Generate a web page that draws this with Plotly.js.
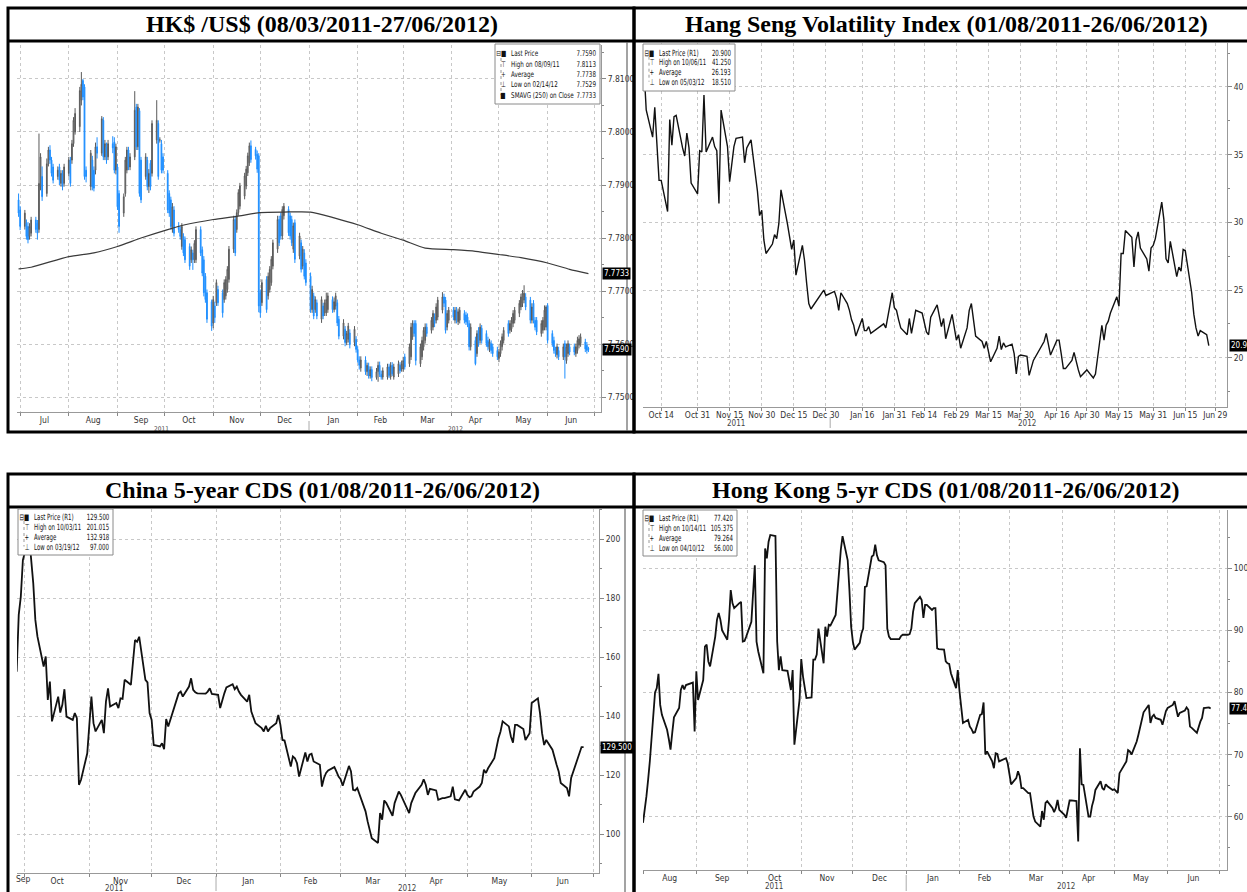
<!DOCTYPE html>
<html><head><meta charset="utf-8">
<script src="https://cdn.plot.ly/plotly-3.0.1.min.js"></script>
<style>html,body{margin:0;padding:0;background:#fff;}#chart{width:1247px;height:892px;}</style>
</head><body><div id="chart"></div>
<script>
// ---------------- DATA ----------------
// HK$/US$ daily candles [open, high, low, close], 2011-06-30 .. 2012-06-27 (weekdays)
const hkdStart = '2011-06-30';
const hkdOHLC = [
// Jun 30 + Jul 2011
[7.7872,7.7884,7.7840,7.7847],[7.7853,7.7860,7.7815,7.7822],[7.7822,7.7853,7.7816,7.7847],[7.7828,7.7835,7.7797,7.7803],
[7.7822,7.7830,7.7790,7.7797],[7.7803,7.7828,7.7797,7.7822],[7.7809,7.7840,7.7803,7.7834],[7.7834,7.7840,7.7810,7.7816],
[7.7828,7.7834,7.7797,7.7809],[7.7816,7.7997,7.7810,7.7903],[7.7897,7.7960,7.7890,7.7953],[7.7916,7.7935,7.7870,7.7878],
[7.7884,7.7950,7.7878,7.7940],[7.7940,7.7972,7.7935,7.7966],[7.7966,7.7975,7.7940,7.7947],[7.7947,7.7953,7.7916,7.7922],
[7.7934,7.7940,7.7903,7.7909],[7.7916,7.7935,7.7910,7.7928],[7.7934,7.7940,7.7900,7.7909],[7.7903,7.7928,7.7897,7.7922],
[7.7922,7.7928,7.7890,7.7897],[7.7903,7.7940,7.7897,7.7934],
// Aug 2011
[7.7922,7.7953,7.7916,7.7947],[7.7947,7.7953,7.7897,7.7903],[7.7947,7.7985,7.7940,7.7978],[7.7978,7.8028,7.7972,7.8022],
[7.8000,7.8045,7.7995,7.8035],[7.8010,7.8085,7.8000,7.8078],[7.8060,7.8113,7.8050,7.8090],[7.8097,7.8100,7.8060,7.8066],
[7.8085,7.8090,7.7910,7.7916],[7.7928,7.7935,7.7905,7.7916],[7.7897,7.7966,7.7890,7.7960],[7.7947,7.7955,7.7890,7.7897],
[7.7928,7.7935,7.7888,7.7894],[7.7928,7.7980,7.7920,7.7972],[7.7972,7.7990,7.7950,7.7960],[7.7960,7.8030,7.7955,7.8025],
[7.8022,7.8028,7.7947,7.7953],[7.7953,7.7985,7.7947,7.7978],[7.7972,7.7980,7.7940,7.7947],[7.7953,7.7985,7.7947,7.7978],
[7.7978,7.7992,7.7960,7.7970],[7.7981,7.7990,7.7922,7.7928],[7.7928,7.7978,7.7920,7.7972],
// Sep 2011
[7.7934,7.7940,7.7853,7.7859],[7.7884,7.7890,7.7810,7.7822],[7.7847,7.7884,7.7840,7.7878],[7.7884,7.7953,7.7878,7.7947],
[7.7928,7.7972,7.7922,7.7966],[7.7966,7.7972,7.7928,7.7934],[7.7934,7.7960,7.7928,7.7953],[7.7953,7.8077,7.7947,7.8041],
[7.8047,7.8053,7.7966,7.7972],[7.7972,7.8053,7.7966,7.8047],[7.8040,7.8045,7.7878,7.7884],[7.7947,7.7953,7.7866,7.7872],
[7.7916,7.7960,7.7910,7.7953],[7.7947,7.7953,7.7890,7.7897],[7.7897,7.7930,7.7885,7.7922],[7.7941,7.7947,7.7890,7.7897],
[7.7922,7.8022,7.7916,7.8016],[7.7985,7.8060,7.7978,7.8022],[7.8016,7.8022,7.7910,7.7916],[7.7985,7.7990,7.7980,7.7985],
[7.7978,7.7985,7.7922,7.7928],[7.7953,7.7960,7.7922,7.7928],
// Oct 2011
[7.7922,7.7928,7.7847,7.7853],[7.7884,7.7890,7.7840,7.7847],[7.7872,7.7878,7.7816,7.7822],[7.7816,7.7866,7.7810,7.7859],
[7.7853,7.7860,7.7803,7.7809],[7.7822,7.7830,7.7810,7.7816],[7.7816,7.7822,7.7797,7.7803],[7.7784,7.7828,7.7778,7.7822],
[7.7803,7.7809,7.7766,7.7772],[7.7797,7.7803,7.7753,7.7759],[7.7784,7.7790,7.7740,7.7747],[7.7759,7.7784,7.7753,7.7778],
[7.7772,7.7778,7.7740,7.7759],[7.7759,7.7796,7.7753,7.7790],[7.7759,7.7822,7.7753,7.7816],[7.7816,7.7822,7.7766,7.7772],
[7.7778,7.7784,7.7728,7.7734],[7.7759,7.7766,7.7690,7.7697],[7.7728,7.7734,7.7678,7.7684],[7.7697,7.7703,7.7640,7.7647],
[7.7680,7.7684,7.7625,7.7634],
// Nov 2011
[7.7640,7.7691,7.7630,7.7684],[7.7672,7.7680,7.7640,7.7650],[7.7678,7.7722,7.7672,7.7716],[7.7703,7.7710,7.7672,7.7678],
[7.7697,7.7703,7.7650,7.7659],[7.7684,7.7722,7.7678,7.7716],[7.7691,7.7728,7.7684,7.7722],[7.7703,7.7747,7.7697,7.7741],
[7.7722,7.7785,7.7716,7.7779],[7.7779,7.7842,7.7772,7.7835],[7.7835,7.7842,7.7766,7.7772],[7.7816,7.7854,7.7810,7.7848],
[7.7848,7.7892,7.7842,7.7886],[7.7860,7.7904,7.7854,7.7898],[7.7879,7.7923,7.7873,7.7917],[7.7898,7.7936,7.7892,7.7930],
[7.7923,7.7961,7.7917,7.7955],[7.7942,7.7980,7.7936,7.7974],[7.7974,7.7984,7.7942,7.7948],[7.7967,7.7972,7.7948,7.7955],
[7.7958,7.7965,7.7923,7.7930],[7.7955,7.7960,7.7660,7.7672],
// Dec 2011
[7.7697,7.7703,7.7650,7.7659],[7.7678,7.7722,7.7672,7.7716],[7.7722,7.7728,7.7659,7.7665],[7.7691,7.7735,7.7684,7.7728],
[7.7703,7.7747,7.7697,7.7741],[7.7716,7.7766,7.7710,7.7760],[7.7747,7.7797,7.7741,7.7791],[7.7779,7.7842,7.7772,7.7835],
[7.7835,7.7842,7.7785,7.7791],[7.7842,7.7848,7.7797,7.7804],[7.7804,7.7860,7.7797,7.7854],[7.7842,7.7866,7.7835,7.7860],
[7.7854,7.7860,7.7804,7.7810],[7.7842,7.7848,7.7797,7.7804],[7.7835,7.7842,7.7785,7.7791],[7.7779,7.7829,7.7772,7.7823],
[7.7829,7.7835,7.7753,7.7760],[7.7766,7.7810,7.7760,7.7804],[7.7791,7.7797,7.7735,7.7741],[7.7747,7.7785,7.7741,7.7779],
[7.7772,7.7779,7.7722,7.7728],[7.7753,7.7760,7.7710,7.7716],
// Jan 2012
[7.7728,7.7735,7.7659,7.7665],[7.7665,7.7710,7.7659,7.7703],[7.7691,7.7697,7.7647,7.7653],[7.7665,7.7690,7.7659,7.7684],
[7.7678,7.7684,7.7647,7.7653],[7.7647,7.7690,7.7640,7.7684],[7.7672,7.7678,7.7647,7.7653],[7.7659,7.7684,7.7653,7.7678],
[7.7659,7.7697,7.7653,7.7684],[7.7665,7.7697,7.7659,7.7691],[7.7684,7.7690,7.7659,7.7665],[7.7665,7.7688,7.7660,7.7680],
[7.7672,7.7697,7.7665,7.7691],[7.7678,7.7684,7.7634,7.7640],[7.7647,7.7653,7.7609,7.7615],[7.7615,7.7647,7.7609,7.7640],
[7.7628,7.7634,7.7596,7.7603],[7.7603,7.7625,7.7598,7.7620],[7.7609,7.7640,7.7603,7.7634],[7.7621,7.7628,7.7592,7.7599],
[7.7603,7.7634,7.7596,7.7628],[7.7609,7.7615,7.7584,7.7590],
// Feb 2012
[7.7590,7.7596,7.7565,7.7570],[7.7570,7.7577,7.7552,7.7560],[7.7555,7.7577,7.7548,7.7570],[7.7570,7.7577,7.7542,7.7548],
[7.7548,7.7565,7.7540,7.7560],[7.7558,7.7565,7.7535,7.7540],[7.7540,7.7558,7.7535,7.7552],[7.7552,7.7558,7.7530,7.7537],
[7.7537,7.7555,7.7533,7.7548],[7.7548,7.7567,7.7529,7.7560],[7.7560,7.7567,7.7538,7.7543],[7.7543,7.7550,7.7533,7.7538],
[7.7538,7.7556,7.7533,7.7550],[7.7538,7.7563,7.7533,7.7557],[7.7557,7.7563,7.7536,7.7541],[7.7538,7.7566,7.7533,7.7560],
[7.7560,7.7566,7.7540,7.7544],[7.7538,7.7563,7.7533,7.7557],[7.7544,7.7569,7.7538,7.7563],[7.7560,7.7566,7.7545,7.7550],
[7.7553,7.7569,7.7548,7.7563],
// Mar 2012
[7.7553,7.7576,7.7548,7.7569],[7.7576,7.7582,7.7552,7.7557],[7.7563,7.7601,7.7557,7.7595],[7.7576,7.7640,7.7570,7.7632],
[7.7614,7.7645,7.7608,7.7639],[7.7639,7.7645,7.7614,7.7620],[7.7639,7.7645,7.7560,7.7569],[7.7563,7.7601,7.7557,7.7595],
[7.7576,7.7614,7.7570,7.7607],[7.7595,7.7632,7.7588,7.7626],[7.7607,7.7639,7.7601,7.7632],[7.7632,7.7639,7.7614,7.7620],
[7.7626,7.7651,7.7620,7.7645],[7.7632,7.7664,7.7626,7.7658],[7.7651,7.7658,7.7632,7.7639],[7.7645,7.7677,7.7639,7.7670],
[7.7651,7.7689,7.7645,7.7683],[7.7664,7.7698,7.7658,7.7689],[7.7689,7.7695,7.7670,7.7677],[7.7683,7.7689,7.7620,7.7626],
[7.7632,7.7664,7.7626,7.7658],[7.7645,7.7670,7.7639,7.7664],
// Apr 2012
[7.7664,7.7670,7.7645,7.7651],[7.7645,7.7670,7.7639,7.7664],[7.7664,7.7670,7.7639,7.7645],[7.7642,7.7667,7.7636,7.7661],
[7.7645,7.7670,7.7639,7.7664],[7.7658,7.7664,7.7639,7.7645],[7.7655,7.7661,7.7636,7.7642],[7.7651,7.7658,7.7632,7.7639],
[7.7639,7.7645,7.7588,7.7595],[7.7595,7.7639,7.7588,7.7632],[7.7607,7.7614,7.7560,7.7563],[7.7582,7.7626,7.7576,7.7620],
[7.7626,7.7632,7.7595,7.7601],[7.7607,7.7639,7.7601,7.7632],[7.7630,7.7636,7.7601,7.7607],[7.7620,7.7626,7.7595,7.7601],
[7.7607,7.7614,7.7588,7.7595],[7.7591,7.7610,7.7585,7.7604],[7.7601,7.7607,7.7582,7.7588],[7.7595,7.7601,7.7576,7.7582],
[7.7588,7.7595,7.7570,7.7576],
// May 2012
[7.7573,7.7591,7.7566,7.7585],[7.7582,7.7607,7.7576,7.7601],[7.7595,7.7620,7.7588,7.7614],[7.7607,7.7632,7.7601,7.7626],
[7.7639,7.7645,7.7614,7.7620],[7.7626,7.7645,7.7620,7.7639],[7.7629,7.7651,7.7623,7.7645],[7.7639,7.7664,7.7632,7.7658],
[7.7645,7.7670,7.7639,7.7664],[7.7658,7.7683,7.7651,7.7677],[7.7670,7.7695,7.7664,7.7689],[7.7677,7.7702,7.7670,7.7696],
[7.7683,7.7711,7.7677,7.7696],[7.7689,7.7696,7.7664,7.7670],[7.7683,7.7689,7.7639,7.7645],[7.7645,7.7677,7.7639,7.7670],
[7.7677,7.7683,7.7639,7.7645],[7.7645,7.7651,7.7626,7.7632],[7.7645,7.7651,7.7617,7.7623],[7.7620,7.7645,7.7614,7.7639],
[7.7626,7.7651,7.7620,7.7645],[7.7632,7.7673,7.7626,7.7664],[7.7632,7.7673,7.7626,7.7670],
// Jun 2012
[7.7673,7.7677,7.7601,7.7607],[7.7620,7.7626,7.7595,7.7601],[7.7607,7.7614,7.7582,7.7588],[7.7588,7.7595,7.7576,7.7582],
[7.7580,7.7601,7.7573,7.7595],[7.7588,7.7595,7.7570,7.7576],[7.7576,7.7601,7.7570,7.7595],[7.7601,7.7607,7.7535,7.7576],
[7.7569,7.7601,7.7563,7.7595],[7.7582,7.7607,7.7576,7.7601],[7.7595,7.7601,7.7579,7.7585],[7.7595,7.7601,7.7579,7.7585],
[7.7582,7.7601,7.7576,7.7595],[7.7588,7.7614,7.7582,7.7607],[7.7598,7.7617,7.7592,7.7610],[7.7601,7.7620,7.7595,7.7614],
[7.7604,7.7610,7.7585,7.7591],[7.7598,7.7604,7.7582,7.7588],[7.7592,7.7595,7.7585,7.7590]
];
// 250-day simple moving average on close
const smaDates = ['2011-06-30','2011-07-08','2011-08-01','2011-08-17','2011-09-01','2011-09-16','2011-10-03','2011-10-14',
 '2011-11-01','2011-11-16','2011-12-01','2011-12-16','2012-01-02','2012-01-17','2012-02-01','2012-02-16','2012-03-01',
 '2012-03-15','2012-04-02','2012-04-16','2012-05-01','2012-05-15','2012-06-01','2012-06-15','2012-06-27'];
const smaValues = [7.7742,7.7745,7.7765,7.7772,7.7784,7.7800,7.7816,7.7825,7.7835,7.7841,7.7848,7.7849,7.7849,
 7.7838,7.7825,7.7809,7.7796,7.7781,7.7778,7.7775,7.7769,7.7763,7.7753,7.7741,7.7733];

// Hang Seng Volatility Index, HK trading days from 2011-10-06
const vhsiStart = '2011-10-06';
const hkHolidays = ['2011-12-26','2011-12-27','2012-01-02','2012-01-23','2012-01-24','2012-01-25','2012-04-04','2012-04-06','2012-04-09','2012-05-01'];
const vhsiValues = [
 41.25,38.3,36.3,38.5,35.8,33.1,33.1,
 30.8,37.6,35.7,37.8,37.9,35.5,34.9,36.6,35.5,32.9,32.1,
 35.3,35.2,39.4,35.2,36.3,35.6,35.3,31.4,38.3,35.6,33,
 34.4,35.6,36.2,36.3,34.4,35.5,35.8,36.1,32.3,30.5,30.9,
 28.7,27.7,28.4,29.1,28.8,29.9,32.4,29.9,28.8,28,28.7,
 26.1,28.3,27.2,25.5,24,23.6,24.8,25,24.6,
 24.9,24.4,23.5,24.8,24,23.5,22.8,22.4,21.6,22.9,
 22,22,22.3,21.8,22.5,22.2,24.8,23.7,
 23.5,22.8,22.2,21.7,22.9,21.8,22.7,23.5,23.3,22.7,
 21.9,21.7,23,23.9,23.2,22.3,22.9,21.4,23.2,22.2,21.3,
 21.7,20.7,22.2,23.5,24,22.9,21.6,21.2,20.7,21.2,20.3,
 19.7,20.7,21.6,20.6,21.1,20.8,21,20.3,18.8,20.1,20.2,
 20.1,18.7,19.8,21.2,21.8,21.1,20.2,21.3,
 21.3,20.3,19.2,19.2,19.8,20.4,19.7,19.1,18.6,19.1,
 18.7,18.51,18.8,22.4,21.3,22.4,22.7,23.3,24.5,23.8,
 27.7,27.7,29.4,28.9,26.7,28.7,29.3,28.1,27.3,26.4,28.1,28.3,
 28.8,31.5,30.2,27.3,27,28.6,26,26.7,26.4,28,27.9,
 24.8,23.2,22.2,21.6,22,21.7,20.9];
const vhsiTickDates = ['2011-10-14','2011-10-31','2011-11-15','2011-11-30','2011-12-15','2011-12-30','2012-01-16','2012-01-31',
 '2012-02-14','2012-02-29','2012-03-15','2012-03-30','2012-04-16','2012-04-30','2012-05-15','2012-05-31','2012-06-15','2012-06-29'];
const vhsiTickText = ['Oct 14','Oct 31','Nov 15','Nov 30','Dec 15','Dec 30','Jan 16','Jan 31','Feb 14','Feb 29','Mar 15',
 'Mar 30','Apr 16','Apr 30','May 15','May 31','Jun 15','Jun 29'];

// China 5-year CDS, weekdays from 2011-09-27
const chinaStart = '2011-09-27';
const chinaValues = [
 155,174.3,180.5,192.9,
 201.015,192.9,185,172.6,167,156.8,160.2,145.5,151.7,138.2,146.6,141.2,143.8,149.1,139.8,138.7,141,139.3,116.7,118.4,127.4,
 137,146.6,137.6,134.8,138.7,134.2,144.9,149.4,143.2,144.4,142.7,146,145.8,152.3,150.6,159,165.8,165.2,166.9,152.3,151.4,141,
 138.7,130.2,129.7,130.8,128.8,139,136.5,143.2,145.5,147.7,148.3,146.6,150,152.8,148.9,148.1,147.7,147.7,147.6,148.3,149.4,147.5,
 147.2,142.7,145.5,147.7,149.7,150.8,149.1,150,148.3,147.2,144.9,147.2,141.5,139.3,137.6,135.9,134.8,136.7,134.8,135.9,137.6,140.4,
 137,131.9,131.7,122.9,126.3,125.7,124,119.5,127.7,124.6,126.9,127.2,124.6,123.5,116.1,119,120.7,121.6,122.7,121.2,119.5,
 118.6,116.4,123.1,121.2,115,114.8,115.6,109.9,107.7,104.3,100.9,98.6,97,107.1,104.9,111.4,110.5,106.2,110.5,112.8,114.4,113.3,
 108.8,107.1,110.5,112.2,113.9,116.7,118.6,116.7,113.3,115.3,114.8,111.6,112,112.2,112.2,112.8,116.1,111.8,111.6,111.4,115,
 113.3,112.5,112.8,114.4,116.1,117.3,121.8,120.7,122.3,125.7,129.7,132.5,134.8,138.2,136.5,133.1,131,137,137,135.6,131.9,133.1,134.2,
 144.4,146,141,134.2,130.2,131.9,128.6,125.7,123.5,121.2,117.3,115.6,112.8,119,121.2,123.5,129.5,129.5];

// Hong Kong 5-yr CDS, weekdays from 2011-08-01
const hkcdsStart = '2011-08-01';
const hkcdsValues = [
 59,61,63.3,66,69,80,80.7,83,78,76.4,74,72.5,70.8,73.5,76,77.5,80.4,81.2,80.5,81.2,81.5,81.6,73.7,
 83.4,78.8,82,87.4,87.7,85,84.2,89,91.7,92.8,91.7,90,88.5,91.7,96.5,94.4,93.6,94.4,94.6,88.2,88.3,89,
 91.4,96,100.5,88.2,86.6,83.1,103.2,101.6,104.3,105.375,105.2,88.2,83.6,85.8,83.6,83.5,81.8,80.4,83.6,71.6,78.8,
 85.4,82.6,80.4,79.1,79.2,85.3,85.3,86.1,90.3,84.7,90.6,89,90.9,90.8,92.5,96,100.5,103,105.2,101.3,96.5,90.6,
 88.2,86.9,88,89.5,90.3,97,97.1,101.9,102.1,103.8,102.1,101.3,101,100.5,90.3,89,88.6,88.6,88.6,88.6,89.1,89.3,
 89.3,89.4,90.3,93,94.4,95.4,94.9,92,94.1,94.1,93.3,93.6,93.6,87.1,87,86.9,85,84.7,84.6,83.1,80.7,83.6,
 80.2,77.7,75.1,75.6,74.5,74.1,73.5,73.6,76.4,76.5,78.4,70,70.5,68.9,67.8,70.2,70.1,68.9,69.2,69.4,68.6,
 66.8,65.2,66.2,67.3,66.5,64.6,64.6,63.8,63.8,61.7,60,59.2,58.4,60.9,59.5,62.2,62.5,61.4,60.7,61.4,62.7,61.1,
 60.3,59.8,61.4,62.6,62.6,62.5,56,71,65.2,65.1,60,60,61.7,62.7,64.3,65.7,64.6,64.3,65.2,64.9,64.3,
 64.4,64.1,63.8,67,68.4,68.9,70.7,70.5,70,72.1,73.2,74.3,75.3,76.8,78,75.1,76.1,76.4,75.9,75.6,74.8,76.1,77,
 77.5,78,78.6,77.5,76.1,76.7,77.1,77.6,77.2,74.5,74.3,73.5,74.5,75.3,75.9,77.5,77.6,77.42];

// Panel titles and legend texts
const titles = ['HK$ /US$ (08/03/2011-27/06/2012)','Hang Seng Volatility Index (01/08/2011-26/06/2012)',
 'China 5-year CDS (01/08/2011-26/06/2012)','Hong Kong 5-yr CDS (01/08/2011-26/06/2012)'];
const legHKD = {sym:['⊟■','⊤','+','⊥','■'], lab:['Last Price','High on 08/09/11','Average','Low on 02/14/12','SMAVG (250) on Close'], val:['7.7590','7.8113','7.7738','7.7529','7.7733']};
const legVHSI = {sym:['⊟■','⊤','+','⊥'], lab:['Last Price (R1)','High on 10/06/11','Average','Low on 05/03/12'], val:['20.900','41.250','26.193','18.510']};
const legCN = {sym:['⊟■','⊤','+','⊥'], lab:['Last Price (R1)','High on 10/03/11','Average','Low on 03/19/12'], val:['129.500','201.015','132.918','97.000']};
const legHK = {sym:['⊟■','⊤','+','⊥'], lab:['Last Price (R1)','High on 10/14/11','Average','Low on 04/10/12'], val:['77.420','105.375','79.264','56.000']};

// ---------------- HELPERS ----------------
function tradingDays(start, n, holidays){
  const hol = new Set(holidays || []); const out = [];
  const d = new Date(start + 'T00:00:00Z');
  while(out.length < n){
    const dow = d.getUTCDay(); const s = d.toISOString().slice(0,10);
    if(dow !== 0 && dow !== 6 && !hol.has(s)) out.push(s);
    d.setUTCDate(d.getUTCDate() + 1);
  }
  return out;
}
const W = 1247, H = 892;
const px = x => x / W, py = y => 1 - y / H;
const SMALL = "'DejaVu Sans Condensed','DejaVu Sans',sans-serif";
const LEGFONT = "'DejaVu Sans',sans-serif";
const TICKFONT = {family: SMALL, size: 8.5, color: '#333'};
const GRID = '#c8c8c8';

function xAxis(dom, range, anchor, extra){
  return Object.assign({domain: dom, anchor, type: 'date', range, showgrid: true, gridcolor: GRID, griddash: 'dot',
    gridwidth: 1, showline: true, linecolor: '#999', linewidth: 1, ticks: 'outside', ticklen: 3, tickcolor: '#888',
    tickfont: TICKFONT, ticklabelstandoff: -3, zeroline: false, fixedrange: true}, extra);
}
function yAxis(dom, range, anchor, extra){
  return Object.assign({domain: dom, anchor, side: 'right', range, showgrid: true, gridcolor: GRID, griddash: 'dot',
    gridwidth: 1, showline: true, linecolor: '#999', linewidth: 1, ticks: 'outside', ticklen: 4, tickcolor: '#888',
    tickfont: TICKFONT, zeroline: false, fixedrange: true}, extra);
}

// ---------------- TRACES ----------------
const hkdDates = tradingDays(hkdStart, hkdOHLC.length);
const traces = [
  {type: 'candlestick', x: hkdDates, open: hkdOHLC.map(r => r[0]), high: hkdOHLC.map(r => r[1]),
   low: hkdOHLC.map(r => r[2]), close: hkdOHLC.map(r => r[3]), xaxis: 'x', yaxis: 'y', whiskerwidth: 0,
   increasing: {line: {color: '#5a5a5a', width: 1}, fillcolor: '#b4b4b4'},
   decreasing: {line: {color: '#1f8fff', width: 1}, fillcolor: '#1f8fff'}, hoverinfo: 'skip'},
  {type: 'scatter', mode: 'lines', x: smaDates, y: smaValues, xaxis: 'x', yaxis: 'y',
   line: {color: '#3a3a3a', width: 1.2, shape: 'spline', smoothing: 0.6}, hoverinfo: 'skip'},
  {type: 'scatter', mode: 'lines', x: tradingDays(vhsiStart, vhsiValues.length, hkHolidays), y: vhsiValues,
   xaxis: 'x2', yaxis: 'y2', line: {color: '#111', width: 1.4}, hoverinfo: 'skip'},
  {type: 'scatter', mode: 'lines', x: tradingDays(chinaStart, chinaValues.length), y: chinaValues,
   xaxis: 'x3', yaxis: 'y3', line: {color: '#111', width: 1.8}, hoverinfo: 'skip'},
  {type: 'scatter', mode: 'lines', x: tradingDays(hkcdsStart, hkcdsValues.length), y: hkcdsValues,
   xaxis: 'x4', yaxis: 'y4', line: {color: '#111', width: 1.8}, hoverinfo: 'skip'}
];

// ---------------- LAYOUT ----------------
const monthly = (tick0) => ({dtick: 'M1', tick0, tickformat: '%b', ticklabelmode: 'period'});
const minorY = d => ({dtick: d, ticks: 'outside', ticklen: 2, tickcolor: '#888', showgrid: false});
const layout = {
  width: W, height: H, margin: {l: 0, r: 0, t: 0, b: 0}, paper_bgcolor: '#fff', plot_bgcolor: '#fff',
  showlegend: false,
  xaxis: xAxis([px(17), px(601)], ['2011-06-29', '2012-07-05'], 'y',
    Object.assign(monthly('2011-07-01'), {rangeslider: {visible: false}})),
  yaxis: yAxis([py(412), py(45)], [7.7472, 7.8164], 'x', {dtick: 0.01, tickformat: '.4f', minor: minorY(0.005)}),
  xaxis2: xAxis([px(643), px(1227)], ['2011-10-05 12:00', '2012-07-04 12:00'], 'y2',
    {tickvals: vhsiTickDates, ticktext: vhsiTickText}),
  yaxis2: yAxis([py(407), py(43)], [16.36, 43.25], 'x2', {dtick: 5, minor: minorY(2.5)}),
  xaxis3: xAxis([px(17), px(599)], ['2011-09-27 04:00', '2012-07-03 10:00'], 'y3', monthly('2011-10-01')),
  yaxis3: yAxis([py(873), py(509)], [86.8, 210.2], 'x3', {dtick: 20, minor: minorY(10)}),
  xaxis4: xAxis([px(643), px(1227)], ['2011-08-01', '2012-07-05 12:00'], 'y4', monthly('2011-08-01')),
  yaxis4: yAxis([py(870), py(510)], [51.4, 109.4], 'x4', {dtick: 10, minor: minorY(5)}),
  shapes: [], annotations: []
};
const S = layout.shapes, A = layout.annotations;
const pline = (x0, y0, x1, y1, w, c, dash) => S.push({type: 'line', xref: 'paper', yref: 'paper', x0: px(x0), y0: py(y0),
  x1: px(x1), y1: py(y1), line: {color: c || '#000', width: w, dash: dash || 'solid'}});
// panel frames
[[8, 8, 634, 432], [634, 8, 1252, 432], [8, 474, 634, 900], [634, 474, 1252, 900]].forEach(r =>
  S.push({type: 'rect', xref: 'paper', yref: 'paper', x0: px(r[0]), y0: py(r[1]), x1: px(r[2]), y1: py(r[3]),
    line: {color: '#000', width: 3}, layer: 'above'}));
pline(8, 41, 1252, 41, 3); pline(8, 507, 1252, 507, 3);
pline(627, 42, 627, 431, 1.2, '#666'); pline(625, 508, 625, 892, 1.2, '#666');

// titles
[[322, 24.5], [946, 24.5], [322, 490], [946, 490]].forEach((p, i) => A.push({xref: 'paper', yref: 'paper',
  x: px(p[0]), y: py(p[1]), text: '<b>' + titles[i] + '</b>', showarrow: false, xanchor: 'center', yanchor: 'middle',
  font: {family: "'Liberation Serif','Times New Roman',serif", size: 24, color: '#000'}}));

// legends (text narrowed after drawing to mimic the terminal's condensed font)
const narrow = [];
function legend(L, box, labX, valX, rows, fs, sc){
  S.push({type: 'rect', xref: 'paper', yref: 'paper', x0: px(box[0]), y0: py(box[1]), x1: px(box[2]), y1: py(box[3]),
    line: {color: '#8a8a8a', width: 1}, fillcolor: '#fff', layer: 'above'});
  pline(labX - 8, rows[0] + 4, labX - 8, rows[rows.length - 1], 1, '#999', 'dot');
  rows.forEach((y, i) => {
    const f = {family: LEGFONT, size: fs, color: '#111'};
    narrow.push({i: A.length, a: 'right', s: sc});
    A.push({xref: 'paper', yref: 'paper', x: px(labX - 1), y: py(y), text: L.sym[i], showarrow: false, xanchor: 'right', yanchor: 'middle', font: f});
    narrow.push({i: A.length, a: 'left', s: sc});
    A.push({xref: 'paper', yref: 'paper', x: px(labX), y: py(y), text: L.lab[i], showarrow: false, xanchor: 'left', yanchor: 'middle', font: f});
    narrow.push({i: A.length, a: 'right', s: sc});
    A.push({xref: 'paper', yref: 'paper', x: px(valX), y: py(y), text: L.val[i], showarrow: false, xanchor: 'right', yanchor: 'middle', font: f});
  });
}
legend(legHKD, [495, 44, 600, 104], 509, 598, [54, 64.3, 74.6, 84.9, 95.2], 8, 0.7);
legend(legVHSI, [643, 44, 735, 91], 657, 733, [52.7, 62.3, 72, 81.7], 8.5, 0.64);
legend(legCN, [18, 509, 113, 555], 32, 111, [517, 527, 537, 546.5], 8.5, 0.64);
legend(legHK, [643, 510, 737, 556], 657, 735, [518, 528, 538, 547.5], 8.5, 0.64);

// last-value tags on the right axes
function tag(text, yref, yv, xPix){
  A.push({xref: 'paper', yref, x: px(xPix), y: yv, text, showarrow: false, xanchor: 'left', yanchor: 'middle',
    bgcolor: '#000', borderpad: 1, font: {family: SMALL, size: 8, color: '#fff'}});
}
tag('7.7733', 'y', smaValues[smaValues.length - 1], 602);
tag('7.7590', 'y', hkdOHLC[hkdOHLC.length - 1][3], 602);
tag('20.90', 'y2', vhsiValues[vhsiValues.length - 1], 1229);
tag('129.500', 'y3', chinaValues[chinaValues.length - 1], 600);
tag('77.42', 'y4', hkcdsValues[hkcdsValues.length - 1], 1229);

// year labels and year separators
[['x', '2011-09-29', '2011', 428.5, 6.5], ['x', '2012-04-03', '2012', 428.5, 6.5],
 ['x2', '2011-11-18', '2011', 423, 8], ['x2', '2012-04-02', '2012', 423, 8],
 ['x3', '2011-11-13', '2011', 888, 8], ['x3', '2012-04-02', '2012', 888, 8],
 ['x4', '2011-10-16', '2011', 886, 8], ['x4', '2012-04-03', '2012', 886, 8]].forEach(a =>
  A.push({xref: a[0], yref: 'paper', x: a[1], y: py(a[3]), text: a[2], showarrow: false, xanchor: 'center', yanchor: 'middle',
    font: {family: SMALL, size: a[4], color: '#444'}}));
[['x', 421, 430], ['x2', 417, 428], ['x3', 876, 891], ['x4', 875, 891]].forEach(a =>
  S.push({type: 'line', xref: a[0], yref: 'paper', x0: '2012-01-01', x1: '2012-01-01', y0: py(a[1]), y1: py(a[2]),
    line: {color: '#aaa', width: 1}}));
// "Sep" label for the partial first month of the China CDS panel
A.push({xref: 'x3', yref: 'paper', x: '2011-09-30 12:00', y: py(878.5), text: 'Sep', showarrow: false,
  xanchor: 'center', yanchor: 'middle', font: TICKFONT});

Plotly.newPlot('chart', traces, layout, {staticPlot: true, displayModeBar: false}).then(() => {
  narrow.forEach(n => {
    const t = document.querySelector('.annotation[data-index="' + n.i + '"] text.annotation-text');
    if (t) {
      t.style.transformBox = 'fill-box';
      t.style.transformOrigin = n.a + ' center';
      t.style.transform = 'scaleX(' + n.s + ')';
    }
  });
});
</script></body></html>
